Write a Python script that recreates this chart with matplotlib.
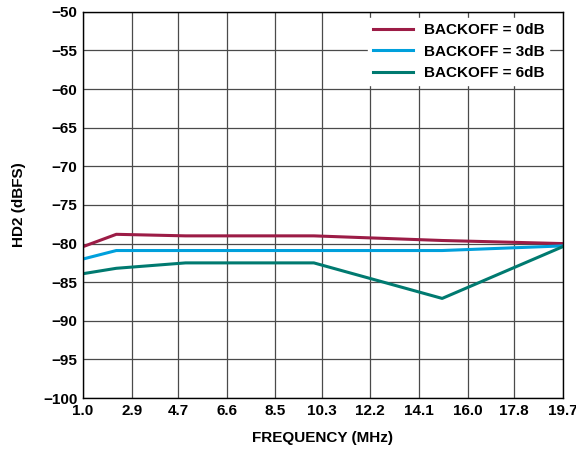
import matplotlib.pyplot as plt

plt.rcParams['font.family'] = ['Liberation Sans', 'DejaVu Sans']
plt.rcParams['font.weight'] = 'bold'

# HD2 vs frequency for three backoff settings
freq_mhz = [1.0, 2.3, 5.0, 10.0, 15.0, 19.7]
hd2_backoff_0db = [-80.4, -78.8, -79.0, -79.0, -79.6, -80.0]
hd2_backoff_3db = [-82.0, -80.9, -80.9, -80.9, -80.9, -80.3]
hd2_backoff_6db = [-83.9, -83.2, -82.5, -82.5, -87.1, -80.4]

x_ticks = [1.0, 2.9, 4.7, 6.6, 8.5, 10.3, 12.2, 14.1, 16.0, 17.8, 19.7]
y_ticks = list(range(-100, -49, 5))

fig = plt.figure(figsize=(5.76, 4.57), dpi=100)
ax = fig.add_axes([0.144, 0.129, 0.833, 0.845])

ax.plot(freq_mhz, hd2_backoff_0db, color='#9c1c46', lw=2.2, label='BACKOFF = 0dB')
ax.plot(freq_mhz, hd2_backoff_3db, color='#00a0dc', lw=2.2, label='BACKOFF = 3dB')
ax.plot(freq_mhz, hd2_backoff_6db, color='#007a70', lw=2.2, label='BACKOFF = 6dB')

ax.set_xlim(1.0, 19.7)
ax.set_ylim(-100, -50)
ax.set_xticks(x_ticks)
ax.set_xticklabels([f'{t:.1f}' for t in x_ticks])
ax.set_yticks(y_ticks)
ax.set_yticklabels([f'\u2212{abs(t)}' for t in y_ticks])
ax.tick_params(length=0, labelsize=11, pad=4)
ax.grid(True, color='#4a4a4a', lw=0.9)
ax.set_axisbelow(True)
for s in ax.spines.values():
    s.set_color('black')
    s.set_linewidth(1.0)

ax.set_xlabel('FREQUENCY (MHz)', fontsize=11, fontweight='bold', labelpad=10)
ax.set_ylabel('HD2 (dBFS)', fontsize=11, fontweight='bold', labelpad=12)

leg = ax.legend(loc='upper right', bbox_to_anchor=(0.972, 0.983), borderaxespad=0,
                fontsize=11, frameon=True, fancybox=False,
                handlelength=2.6, handletextpad=0.75, borderpad=0.3,
                labelspacing=0.5)
leg.get_frame().set_edgecolor('white')
leg.get_frame().set_alpha(1.0)

fig.savefig('out.png', dpi=100)
